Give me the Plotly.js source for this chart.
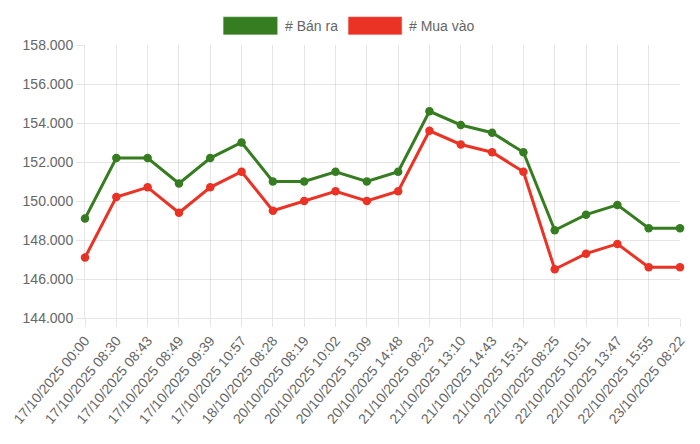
<!DOCTYPE html>
<html>
<head>
<meta charset="utf-8">
<script src="https://cdn.plot.ly/plotly-3.0.1.min.js"></script>
<style>
  html, body { margin: 0; padding: 0; background: #fff; }
  #chart { width: 700px; height: 444px; }
</style>
</head>
<body>
<div id="chart"></div>
<script>
var labels = [
    '17/10/2025 00:00', '17/10/2025 08:30', '17/10/2025 08:43', '17/10/2025 08:49',
    '17/10/2025 09:39', '17/10/2025 10:57', '18/10/2025 08:28', '20/10/2025 08:19',
    '20/10/2025 10:02', '20/10/2025 13:09', '20/10/2025 14:48', '21/10/2025 08:23',
    '21/10/2025 13:10', '21/10/2025 14:43', '21/10/2025 15:31', '22/10/2025 08:25',
    '22/10/2025 10:51', '22/10/2025 13:47', '22/10/2025 15:55', '23/10/2025 08:22'
];

var banRa = [149100, 152200, 152200, 150900, 152200, 153000, 151000, 151000, 151500, 151000,
             151500, 154600, 153900, 153500, 152500, 148500, 149300, 149800, 148600, 148600];

var muaVao = [147100, 150200, 150700, 149400, 150700, 151500, 149500, 150000, 150500, 150000,
              150500, 153600, 152900, 152500, 151500, 146500, 147300, 147800, 146600, 146600];

var yTicks = [144000, 146000, 148000, 150000, 152000, 154000, 156000, 158000];

var green = '#367d22';
var red = '#ea3324';
var grid = 'rgba(0,0,0,0.1)';
var txt = '#666';

var trace1 = {
    x: labels,
    y: banRa,
    name: '# Bán ra',
    type: 'scatter',
    mode: 'lines+markers',
    cliponaxis: false,
    line: {color: green, width: 3},
    marker: {color: green, size: 8.5}
};

var trace2 = {
    x: labels,
    y: muaVao,
    name: '# Mua vào',
    type: 'scatter',
    mode: 'lines+markers',
    cliponaxis: false,
    line: {color: red, width: 3},
    marker: {color: red, size: 8.5}
};

// legend boxes drawn by hand, Chart.js style
var legendShapes = [
    {type: 'rect', xref: 'paper', yref: 'paper', x0: 0.232, x1: 0.324, y0: 1.037, y1: 1.104,
     fillcolor: green, line: {color: 'rgba(255,255,255,0.6)', width: 1}},
    {type: 'rect', xref: 'paper', yref: 'paper', x0: 0.442, x1: 0.533, y0: 1.037, y1: 1.104,
     fillcolor: red, line: {color: 'rgba(255,255,255,0.6)', width: 1}}
];

var legendText = [
    {xref: 'paper', yref: 'paper', x: 0.332, y: 1.071, xanchor: 'left', yanchor: 'middle',
     text: '# Bán ra', showarrow: false, font: {size: 14, color: txt}},
    {xref: 'paper', yref: 'paper', x: 0.542, y: 1.071, xanchor: 'left', yanchor: 'middle',
     text: '# Mua vào', showarrow: false, font: {size: 14, color: txt}}
];

var layout = {
    width: 700,
    height: 444,
    margin: {l: 85, r: 20, t: 45, b: 126},
    paper_bgcolor: '#fff',
    plot_bgcolor: '#fff',
    showlegend: false,
    font: {family: 'Liberation Sans, Arial, sans-serif', size: 14, color: txt},
    xaxis: {
        type: 'category',
        range: [0, labels.length - 1],
        tickangle: -50,
        showgrid: true,
        gridcolor: grid,
        ticks: 'outside',
        ticklen: 8,
        tickcolor: grid,
        showline: true,
        linecolor: grid,
        tickfont: {size: 14, color: txt}
    },
    yaxis: {
        range: [144000, 158000],
        tickvals: yTicks,
        // values are in thousands, shown like 158.000
        ticktext: yTicks.map(function (v) { return (v / 1000).toFixed(3); }),
        showgrid: true,
        gridcolor: grid,
        zeroline: false,
        ticks: 'outside',
        ticklen: 8,
        tickcolor: grid,
        showline: true,
        linecolor: grid,
        tickfont: {size: 14, color: txt}
    },
    shapes: legendShapes,
    annotations: legendText
};

Plotly.newPlot('chart', [trace1, trace2], layout, {displayModeBar: false, staticPlot: true});
</script>
</body>
</html>
